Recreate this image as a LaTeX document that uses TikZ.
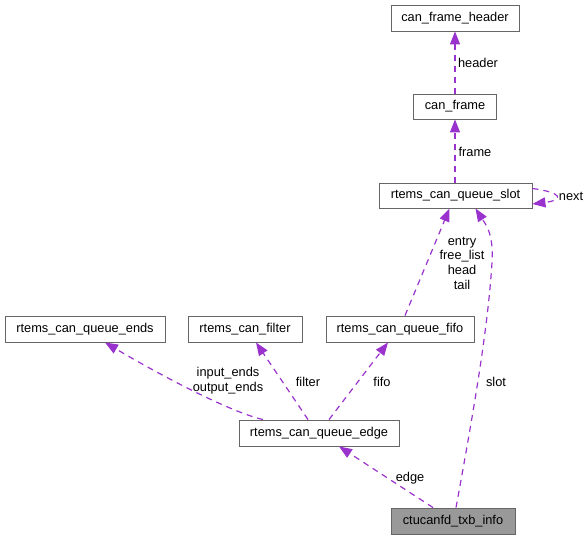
\documentclass[tikz,border=0pt]{standalone}
\usepackage{fontspec}
\setmainfont{Liberation Sans}
\usetikzlibrary{arrows.meta}
\definecolor{edgecol}{HTML}{9A32CD}
\definecolor{boxcol}{HTML}{666666}
\definecolor{rootfill}{HTML}{999999}
\tikzset{
  cls/.style={draw=boxcol, line width=0.9pt, fill=white, inner sep=0pt, font=\fontsize{12.8}{15}\selectfont, text=black},
  rootcls/.style={cls, fill=rootfill},
  rel/.style={draw=edgecol, line width=1.2pt, dash pattern=on 6pt off 5pt, -{Triangle[length=13pt,width=10pt,fill=edgecol]}},
  lbl/.style={font=\fontsize{12.8}{14.7}\selectfont, align=center, inner sep=0pt, text=black}
}
\begin{document}
\begin{tikzpicture}[x=1pt,y=-1pt]
\useasboundingbox (0,0) rectangle (588,540);
\node[cls, minimum width=128pt, minimum height=26pt] (hdr) at (455,18) {can\_frame\_header};
\node[cls, minimum width=83pt, minimum height=25pt] (frame) at (455,106.5) {can\_frame};
\node[cls, minimum width=153pt, minimum height=25pt] (slot) at (455.5,195.5) {rtems\_can\_queue\_slot};
\node[cls, minimum width=160pt, minimum height=26pt] (ends) at (85,329) {rtems\_can\_queue\_ends};
\node[cls, minimum width=114pt, minimum height=26pt] (filter) at (245,329) {rtems\_can\_filter};
\node[cls, minimum width=148pt, minimum height=26pt] (fifo) at (400,329) {rtems\_can\_queue\_fifo};
\node[cls, minimum width=160pt, minimum height=26pt] (edge) at (319,433) {rtems\_can\_queue\_edge};
\node[rootcls, minimum width=124pt, minimum height=26pt] (txb) at (453,521) {ctucanfd\_txb\_info};

\draw[rel] (frame.north) -- (hdr.south);
\node[lbl] (lheader) at (478,63) {header};
\draw[rel] ([xshift=-0.5pt]slot.north) -- (frame.south);
\node[lbl] (lframe) at (475,152) {frame};
\draw[rel] ([yshift=7pt]slot.east) .. controls +(30,4) and +(32,-4) .. ([yshift=-8.5pt]slot.east);
\node[lbl] (lnext) at (571,196) {next};

\draw[rel] ([xshift=5pt]fifo.north) -- ([xshift=-6pt]slot.south);
\node[lbl] (lentry) at (462,263) {entry\\free\_list\\head\\tail};

\draw[rel] ([xshift=3pt]txb.north) .. controls (472,420) and (488,330) .. (492,262) .. controls (494,232) and (484,222) .. ([xshift=20pt]slot.south);
\node[lbl] (lslot) at (496,382) {slot};

\draw[rel] ([xshift=-56pt]edge.north) .. controls (230,412) and (160,375) .. ([xshift=20pt]ends.south);
\node[lbl] (lends) at (228,381) {input\_ends\\output\_ends};

\draw[rel] ([xshift=-11pt]edge.north) -- ([xshift=11pt]filter.south);
\node[lbl] (lfilter) at (308,382) {filter};

\draw[rel] ([xshift=10pt]edge.north) -- ([xshift=-12pt]fifo.south);
\node[lbl] (lfifo) at (382,382) {fifo};

\draw[rel] ([xshift=-20pt]txb.north) -- ([xshift=20pt]edge.south);
\node[lbl] (ledge) at (410,478) {edge};
\end{tikzpicture}
\end{document}
